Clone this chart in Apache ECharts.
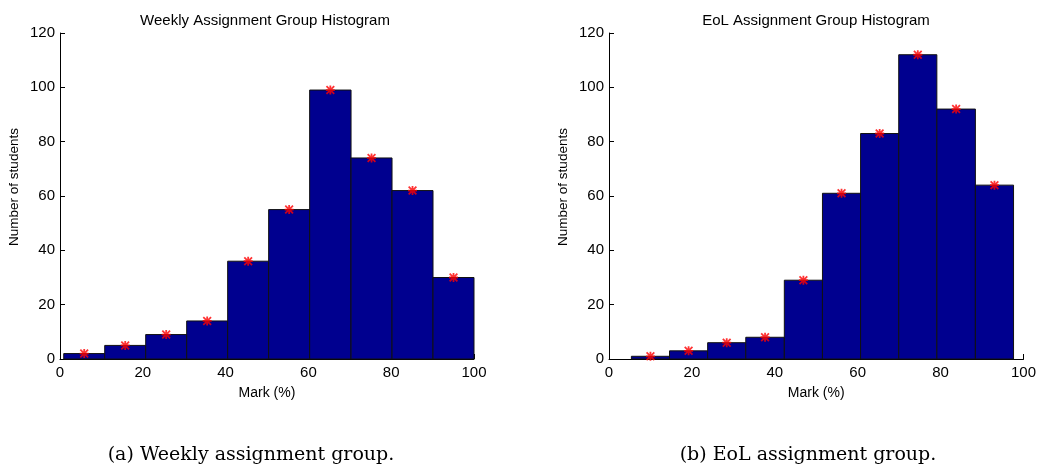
<!DOCTYPE html>
<html>
<head>
<meta charset="utf-8">
<script src="https://cdn.jsdelivr.net/npm/echarts@6/dist/echarts.min.js"></script>
<style>html,body{margin:0;padding:0;background:#fff;}#c{width:1039px;height:467px;}</style>
</head>
<body>
<div id="c"></div>
<script>
// Weekly assignment group histogram
const weeklyEdges = [0.9, 10.8, 20.7, 30.6, 40.5, 50.4, 60.3, 70.3, 80.2, 90.1, 100.0];
const weeklyCounts = [2, 5, 9, 14, 36, 55, 99, 74, 62, 30];
// EoL assignment group histogram
const eolEdges = [5.4, 14.6, 23.8, 33.0, 42.3, 51.5, 60.7, 69.9, 79.1, 88.4, 97.6];
const eolCounts = [1, 3, 6, 8, 29, 61, 83, 112, 92, 64];
const xTicks = [0, 20, 40, 60, 80, 100];
const yTicks = [0, 20, 40, 60, 80, 100, 120];
const titles = ['Weekly Assignment Group Histogram', 'EoL Assignment Group Histogram'];
const captions = ['(a) Weekly assignment group.', '(b) EoL assignment group.'];
const xName = 'Mark (%)';
const yName = 'Number of students';

function binData(edges, counts) {
  return counts.map((c, i) => [edges[i], edges[i + 1], c]);
}
function centerData(edges, counts) {
  return counts.map((c, i) => [(edges[i] + edges[i + 1]) / 2, c]);
}

const asterisk = 'path://M0,4L10,4L10,6L0,6Z M4,0L6,0L6,10L4,10Z M1.4,0L10,8.6L8.6,10L0,1.4Z M8.6,0L10,1.4L1.4,10L0,8.6Z';

const sans = 'Liberation Sans, Arial, sans-serif';
const serif = 'DejaVu Serif, Liberation Serif, serif';
const grids = [
  {left: 60, top: 33, width: 414, height: 326},
  {left: 609, top: 33, width: 415, height: 326}
];

function xAxis(i) {
  return {
    type: 'value', gridIndex: i, min: xTicks[0], max: xTicks[xTicks.length - 1], interval: 20,
    name: xName, nameLocation: 'middle', nameGap: 27,
    nameTextStyle: {fontFamily: sans, fontSize: 14, color: '#000'},
    axisLine: {show: true, onZero: false, lineStyle: {color: '#000', width: 1}},
    axisTick: {show: true, inside: true, length: 5, lineStyle: {color: '#000'}},
    axisLabel: {fontFamily: sans, fontSize: 15, color: '#000', margin: 6},
    splitLine: {show: false}
  };
}
function yAxis(i) {
  return {
    type: 'value', gridIndex: i, min: yTicks[0], max: yTicks[yTicks.length - 1], interval: 20,
    axisLine: {show: true, onZero: false, lineStyle: {color: '#000', width: 1}},
    axisTick: {show: true, inside: true, length: 5, lineStyle: {color: '#000'}},
    axisLabel: {fontFamily: sans, fontSize: 15, color: '#000', margin: 5},
    splitLine: {show: false}
  };
}

function histSeries(i, edges, counts) {
  return {
    type: 'custom', xAxisIndex: i, yAxisIndex: i,
    data: binData(edges, counts),
    renderItem: function (params, api) {
      const p0 = api.coord([api.value(0), api.value(2)]);
      const p1 = api.coord([api.value(1), 0]);
      return {
        type: 'rect',
        shape: {x: p0[0], y: p0[1], width: p1[0] - p0[0], height: p1[1] - p0[1]},
        style: {fill: '#00008f', stroke: '#111', lineWidth: 1}
      };
    },
    silent: true, animation: false
  };
}
function markerSeries(i, edges, counts) {
  return {
    type: 'scatter', xAxisIndex: i, yAxisIndex: i,
    data: centerData(edges, counts),
    symbol: asterisk, symbolSize: 9,
    itemStyle: {color: '#ff0000'},
    silent: true, animation: false, z: 5
  };
}

const chart = echarts.init(document.getElementById('c'));
chart.setOption({
  animation: false,
  backgroundColor: '#fff',
  title: [
    {text: titles[0], left: 260, top: 8, textAlign: 'center', textStyle: {fontFamily: sans, fontSize: 15, fontWeight: 'normal', color: '#000'}},
    {text: titles[1], left: 811, top: 8, textAlign: 'center', textStyle: {fontFamily: sans, fontSize: 15, fontWeight: 'normal', color: '#000'}},
    {text: captions[0], left: 246, top: 441, textAlign: 'center', textStyle: {fontFamily: serif, fontSize: 19, fontWeight: 'normal', color: '#000'}},
    {text: captions[1], left: 803, top: 441, textAlign: 'center', textStyle: {fontFamily: serif, fontSize: 19, fontWeight: 'normal', color: '#000'}}
  ],
  graphic: [
    {type: 'text', x: 14, y: 187, rotation: Math.PI / 2, style: {text: yName, fontFamily: sans, fontSize: 13.5, fill: '#000', align: 'center', verticalAlign: 'middle'}},
    {type: 'text', x: 563, y: 187, rotation: Math.PI / 2, style: {text: yName, fontFamily: sans, fontSize: 13.5, fill: '#000', align: 'center', verticalAlign: 'middle'}}
  ],
  grid: grids,
  xAxis: [xAxis(0), xAxis(1)],
  yAxis: [yAxis(0), yAxis(1)],
  series: [
    histSeries(0, weeklyEdges, weeklyCounts),
    markerSeries(0, weeklyEdges, weeklyCounts),
    histSeries(1, eolEdges, eolCounts),
    markerSeries(1, eolEdges, eolCounts)
  ]
});
</script>
</body>
</html>
